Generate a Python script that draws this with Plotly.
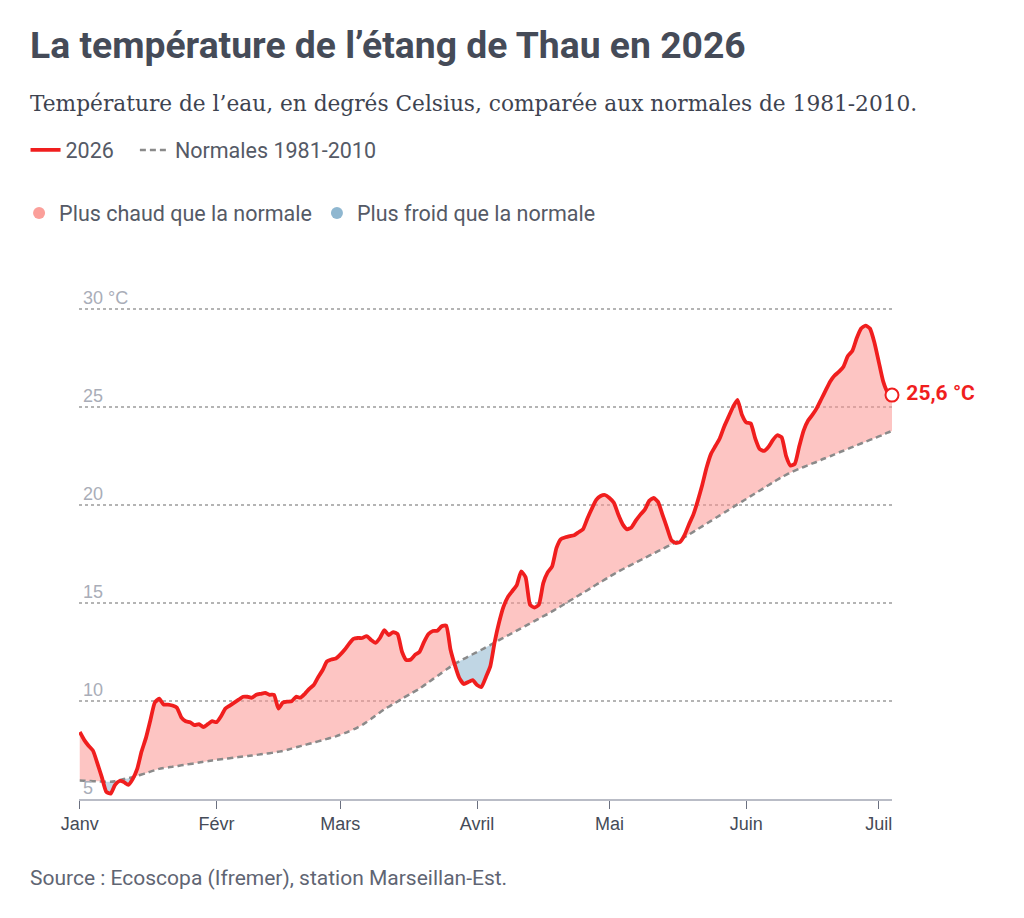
import plotly.graph_objs as go
import numpy as np
import pandas as pd

# Température journalière 2026 (°C), à partir du 1er janvier
debut = "2026-01-01"
temp_2026 = [
    8.4, 8.0, 7.7, 7.45, 6.8, 6.1, 5.35, 5.25, 5.7, 5.9,
    5.85, 5.7, 6.0, 6.5, 7.4, 8.1, 9.0, 9.9, 10.1, 9.8,
    9.8, 9.75, 9.65, 9.15, 8.95, 8.9, 8.75, 8.8, 8.65, 8.8,
    8.95, 8.9, 9.2, 9.6, 9.75, 9.9, 10.05, 10.2, 10.2, 10.15,
    10.3, 10.35, 10.4, 10.3, 10.3, 9.6, 9.9, 9.95, 9.97, 10.2,
    10.15, 10.35, 10.6, 10.8, 11.2, 11.55, 12.0, 12.1, 12.15, 12.35,
    12.6, 12.9, 13.15, 13.2, 13.2, 13.3, 13.1, 12.95, 13.2, 13.6,
    13.35, 13.5, 13.4, 12.5, 12.07, 12.1, 12.35, 12.5, 13.0, 13.4,
    13.56, 13.57, 13.8, 13.83, 12.6, 11.8, 11.15, 10.85, 10.95, 11.05,
    10.8, 10.7, 11.2, 11.75, 13.0, 14.0, 14.8, 15.3, 15.6, 15.9,
    16.6, 16.3, 14.9, 14.75, 14.9, 16.0, 16.55, 16.85, 17.8, 18.25,
    18.34, 18.4, 18.45, 18.6, 18.75, 19.3, 19.8, 20.25, 20.45, 20.5,
    20.35, 20.1, 19.5, 19.0, 18.75, 18.85, 19.2, 19.5, 19.75, 20.2,
    20.35, 20.15, 19.5, 18.85, 18.2, 18.05, 18.1, 18.45, 19.0, 19.5,
    20.2, 21.0, 21.9, 22.6, 23.0, 23.4, 24.0, 24.5, 25.0, 25.35,
    24.6, 24.2, 24.15, 23.4, 22.85, 22.75, 22.95, 23.3, 23.55, 23.45,
    22.5, 22.0, 22.1, 23.0, 23.8, 24.3, 24.6, 24.95, 25.4, 25.85,
    26.3, 26.6, 26.8, 27.05, 27.6, 27.85, 28.5, 29.0, 29.15, 29.0,
    28.3, 27.3, 26.3, 25.75, 25.6,
]
# Normales 1981-2010 aux mêmes dates
normales = [
    5.92, 5.91, 5.90, 5.89, 5.88, 5.87, 5.86, 5.86, 5.89, 5.94,
    6.00, 6.04, 6.09, 6.16, 6.23, 6.30, 6.38, 6.45, 6.52, 6.56,
    6.59, 6.63, 6.66, 6.70, 6.73, 6.77, 6.80, 6.84, 6.88, 6.91,
    6.95, 6.98, 7.01, 7.04, 7.06, 7.09, 7.12, 7.15, 7.18, 7.20,
    7.23, 7.26, 7.29, 7.32, 7.35, 7.39, 7.43, 7.49, 7.55, 7.62,
    7.68, 7.74, 7.80, 7.86, 7.92, 7.98, 8.05, 8.11, 8.18, 8.26,
    8.34, 8.43, 8.53, 8.64, 8.76, 8.91, 9.07, 9.24, 9.40, 9.56,
    9.69, 9.83, 9.96, 10.10, 10.23, 10.36, 10.49, 10.62, 10.78, 10.94,
    11.10, 11.26, 11.42, 11.58, 11.74, 11.88, 12.01, 12.13, 12.25, 12.37,
    12.48, 12.60, 12.72, 12.84, 12.97, 13.09, 13.21, 13.33, 13.45, 13.58,
    13.70, 13.82, 13.94, 14.06, 14.18, 14.31, 14.43, 14.56, 14.69, 14.82,
    14.96, 15.10, 15.23, 15.37, 15.51, 15.64, 15.78, 15.92, 16.05, 16.19,
    16.33, 16.46, 16.59, 16.71, 16.83, 16.94, 17.06, 17.17, 17.29, 17.40,
    17.51, 17.63, 17.74, 17.86, 17.97, 18.09, 18.20, 18.34, 18.48, 18.62,
    18.76, 18.90, 19.04, 19.18, 19.32, 19.46, 19.60, 19.74, 19.88, 20.02,
    20.16, 20.30, 20.44, 20.58, 20.72, 20.86, 21.00, 21.14, 21.28, 21.41,
    21.53, 21.64, 21.74, 21.84, 21.93, 22.02, 22.11, 22.20, 22.30, 22.39,
    22.48, 22.57, 22.67, 22.76, 22.85, 22.94, 23.04, 23.13, 23.22, 23.31,
    23.40, 23.49, 23.58, 23.68, 23.77,
]
mois_dates = ["2026-01-01", "2026-02-01", "2026-03-01", "2026-04-01",
              "2026-05-01", "2026-06-01", "2026-07-01"]
mois_labels = ["Janv", "Févr", "Mars", "Avril", "Mai", "Juin", "Juil"]
y_ticks = [5, 10, 15, 20, 25, 30]
y_labels = ["5", "10", "15", "20", "25", "30 °C"]

assert len(temp_2026) == len(normales)

ROUGE = "#f01e1e"
GRIS = "#8a8a8a"
TEXTE = "#454b58"

t0 = pd.Timestamp(debut)
t = np.array(temp_2026)
n = np.array(normales)
dates = pd.date_range(debut, periods=len(t), freq="D")

# points d'intersection pour séparer les zones chaud / froid
jours, tt, nn = [], [], []
for i in range(len(t)):
    jours.append(i)
    tt.append(t[i])
    nn.append(n[i])
    if i < len(t) - 1:
        d0, d1 = t[i] - n[i], t[i + 1] - n[i + 1]
        if d0 * d1 < 0:
            f = d0 / (d0 - d1)
            yc = n[i] + f * (n[i + 1] - n[i])
            jours.append(i + f)
            tt.append(yc)
            nn.append(yc)
x_fill = t0 + pd.to_timedelta(np.array(jours), unit="D")
tt = np.array(tt)
nn = np.array(nn)
chaud = np.maximum(tt, nn)
froid = np.minimum(tt, nn)

fig = go.Figure()
no_line = dict(width=0, shape="spline", smoothing=0.5)
fig.add_trace(go.Scatter(x=x_fill, y=nn, mode="lines", line=no_line,
                         showlegend=False, hoverinfo="skip"))
fig.add_trace(go.Scatter(x=x_fill, y=chaud, mode="lines", line=no_line,
                         fill="tonexty", fillcolor="rgba(252,150,146,0.55)",
                         showlegend=False, hoverinfo="skip"))
fig.add_trace(go.Scatter(x=x_fill, y=nn, mode="lines", line=no_line,
                         showlegend=False, hoverinfo="skip"))
fig.add_trace(go.Scatter(x=x_fill, y=froid, mode="lines", line=no_line,
                         fill="tonexty", fillcolor="rgba(150,186,210,0.6)",
                         showlegend=False, hoverinfo="skip"))

fig.add_trace(go.Scatter(x=dates, y=n, mode="lines", name="Normales 1981-2010",
                         line=dict(color=GRIS, width=2.5, dash="6px,4px",
                                   shape="spline", smoothing=0.5),
                         legend="legend"))
fig.add_trace(go.Scatter(x=dates, y=t, mode="lines", name="2026\u00a0\u00a0\u00a0",
                         line=dict(color=ROUGE, width=3.8, shape="spline", smoothing=0.5),
                         legend="legend"))

# dernier point
derniere = f"{t[-1]:.1f} °C".replace(".", ",")
fig.add_trace(go.Scatter(x=[dates[-1]], y=[t[-1]], mode="markers+text",
                         marker=dict(size=13, color="white",
                                     line=dict(color=ROUGE, width=2)),
                         text=[" " + derniere], textposition="middle right",
                         textfont=dict(family="Roboto, sans-serif",
                                       size=21, color=ROUGE, weight="bold"),
                         showlegend=False, cliponaxis=False))

# entrées de légende pour les zones
fig.add_trace(go.Scatter(x=[None], y=[None], mode="markers", name="Plus chaud que la normale",
                         marker=dict(size=15, color="#fb9f9a"), legend="legend2"))
fig.add_trace(go.Scatter(x=[None], y=[None], mode="markers", name="Plus froid que la normale",
                         marker=dict(size=15, color="#8fb7d0"), legend="legend2"))

# étiquettes de l'axe y, posées au-dessus des lignes de grille
y_annots = [
    dict(text=lab, xref="paper", yref="y", x=0, y=v, xanchor="left", yanchor="bottom",
         xshift=2, yshift=-1, showarrow=False,
         font=dict(family="Liberation Sans, Arial, sans-serif", size=18, color="#a9adb8"))
    for v, lab in zip(y_ticks, y_labels)
]

leg_font = dict(family="Roboto, sans-serif", size=21.5, color="#555a66")
fig.update_layout(
    width=1008,
    height=902,
    margin=dict(l=71, r=124, t=297, b=111),
    plot_bgcolor="white",
    paper_bgcolor="white",
    showlegend=True,
    legend=dict(orientation="h", xref="container", yref="container",
                x=0.0174, xanchor="left", y=0.8426, yanchor="middle",
                font=leg_font, traceorder="reversed", itemwidth=30,
                bgcolor="rgba(0,0,0,0)"),
    legend2=dict(orientation="h", xref="container", yref="container",
                 x=0.011, xanchor="left", y=0.7727, yanchor="middle",
                 font=leg_font, itemsizing="constant", bgcolor="rgba(0,0,0,0)"),
    xaxis=dict(
        range=["2025-12-31 20:00", dates[-1]],
        tickvals=mois_dates,
        ticktext=mois_labels,
        ticks="outside",
        ticklen=8,
        tickcolor="#6b7080",
        showline=True,
        linecolor="#b9bcc6",
        linewidth=1.5,
        showgrid=False,
        zeroline=False,
        tickfont=dict(family="Liberation Sans, Arial, sans-serif", size=18, color=TEXTE),
    ),
    yaxis=dict(
        range=[4.98, 30.2],
        tickvals=y_ticks,
        showticklabels=False,
        ticks="",
        showgrid=True,
        gridcolor="#b4b4b4",
        griddash="dot",
        gridwidth=1.5,
        zeroline=False,
        showline=False,
    ),
    annotations=y_annots + [
        dict(text="<b>La température de l’étang de Thau en 2026</b>",
             xref="paper", yref="paper", x=-0.063, y=1.5263, xanchor="left", yanchor="middle",
             showarrow=False,
             font=dict(family="Roboto, sans-serif", size=37.3, color=TEXTE)),
        dict(text="Température de l’eau, en degrés Celsius, comparée aux normales de 1981-2010.",
             xref="paper", yref="paper", x=-0.063, y=1.4069, xanchor="left", yanchor="middle",
             showarrow=False,
             font=dict(family="DejaVu Serif, serif", size=21.7, color="#3e4350")),
        dict(text="Source : Ecoscopa (Ifremer), station Marseillan-Est.",
             xref="paper", yref="paper", x=-0.063, y=-0.1599, xanchor="left", yanchor="middle",
             showarrow=False,
             font=dict(family="Roboto, sans-serif", size=21, color="#5f6573")),
    ],
)

fig.write_html("out.html")
